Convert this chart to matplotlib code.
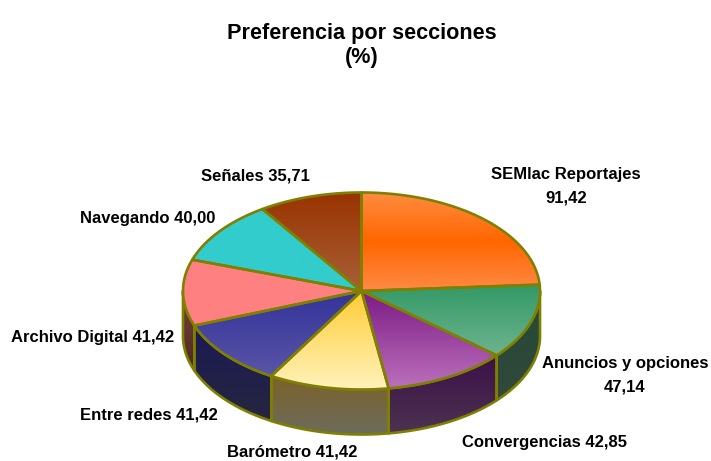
import numpy as np
import matplotlib
matplotlib.use("Agg")
import matplotlib.pyplot as plt
from matplotlib.colors import LinearSegmentedColormap
from matplotlib.patches import Polygon

labels = ["SEMlac Reportajes\n91,42", "Anuncios y opciones\n47,14", "Convergencias 42,85",
          "Barómetro 41,42", "Entre redes 41,42", "Archivo Digital 41,42",
          "Navegando 40,00", "Señales 35,71"]
values = [91.42, 47.14, 42.85, 41.42, 41.42, 41.42, 40.00, 35.71]

# top face gradients, top to bottom of each slice
top_colors = [
    ["#ff8c40", "#ff6600", "#ff8a45"],
    ["#339966", "#6cb48e"],
    ["#7b1a85", "#bb70bb"],
    ["#ffcc33", "#fff2bb"],
    ["#333399", "#5a55a8"],
    ["#ff8080", "#ff8080"],
    ["#33cccc", "#33cccc"],
    ["#993300", "#a86038"],
]
# side wall gradients
side_colors = [
    ["#ff8c40", "#ff8c40"],
    ["#224a36", "#33483c"],
    ["#3c1048", "#4c3350"],
    ["#7d6228", "#6c6c5c"],
    ["#1a1a55", "#262640"],
    ["#7a4040", "#4a2a20"],
    ["#33cccc", "#33cccc"],
    ["#993300", "#993300"],
]

label_pos = [(566, 186), (625, 375), (544, 442), (292, 452), (149, 415), (93, 337), (148, 218), (255, 176)]

EDGE = "#808000"
cx, cy, rx, ry, depth = 361.5, 291, 178.5, 98.5, 45


def ell(ang):
    # angle in radians, counter clockwise, y axis points down in pixels
    return cx + rx * np.cos(ang), cy - ry * np.sin(ang)


def fill_grad(ax, xy, colors, zorder):
    xy = np.array(xy)
    poly = Polygon(xy, closed=True, facecolor="none", edgecolor="none", zorder=zorder)
    ax.add_patch(poly)
    cmap = LinearSegmentedColormap.from_list("g", colors)
    im = ax.imshow(np.linspace(0, 1, 256).reshape(-1, 1), cmap=cmap, aspect="auto", zorder=zorder,
                   extent=(xy[:, 0].min(), xy[:, 0].max(), xy[:, 1].max(), xy[:, 1].min()))
    im.set_clip_path(poly)
    ax.add_patch(Polygon(xy, closed=True, facecolor="none", edgecolor=EDGE, linewidth=1.9,
                         joinstyle="round", zorder=zorder + 0.5))


fig = plt.figure(figsize=(7.11, 4.61), dpi=100)
ax = fig.add_axes([0, 0, 1, 1])
ax.axis("off")

angles = np.pi / 2 - np.cumsum([0] + values) / sum(values) * 2 * np.pi

# walls only on the front half of the ellipse
for i in range(len(values)):
    a1 = min(angles[i], 0.0)
    a2 = max(angles[i + 1], -np.pi)
    if a1 <= a2:
        continue
    t = np.linspace(a1, a2, 50)
    x, y = ell(t)
    xy = np.column_stack([np.r_[x, x[::-1]], np.r_[y, y[::-1] + depth]])
    fill_grad(ax, xy, side_colors[i], 2)

# top faces
for i in range(len(values)):
    t = np.linspace(angles[i], angles[i + 1], 80)
    x, y = ell(t)
    xy = np.column_stack([np.r_[cx, x], np.r_[cy, y]])
    fill_grad(ax, xy, top_colors[i], 4)

ax.set_xlim(0, 711)
ax.set_ylim(461, 0)

font = {"family": "Liberation Sans", "fontweight": "bold", "color": "black"}
ax.text(362, 33, "Preferencia por secciones", fontsize=15.6, ha="center", va="center", **font)
ax.text(362, 57, "(%)", fontsize=15.6, ha="center", va="center", **font)

for lab, (x, y) in zip(labels, label_pos):
    ax.text(x, y, lab, fontsize=12, ha="center", va="center", linespacing=1.75, **font)

fig.savefig("out.png", dpi=100)
